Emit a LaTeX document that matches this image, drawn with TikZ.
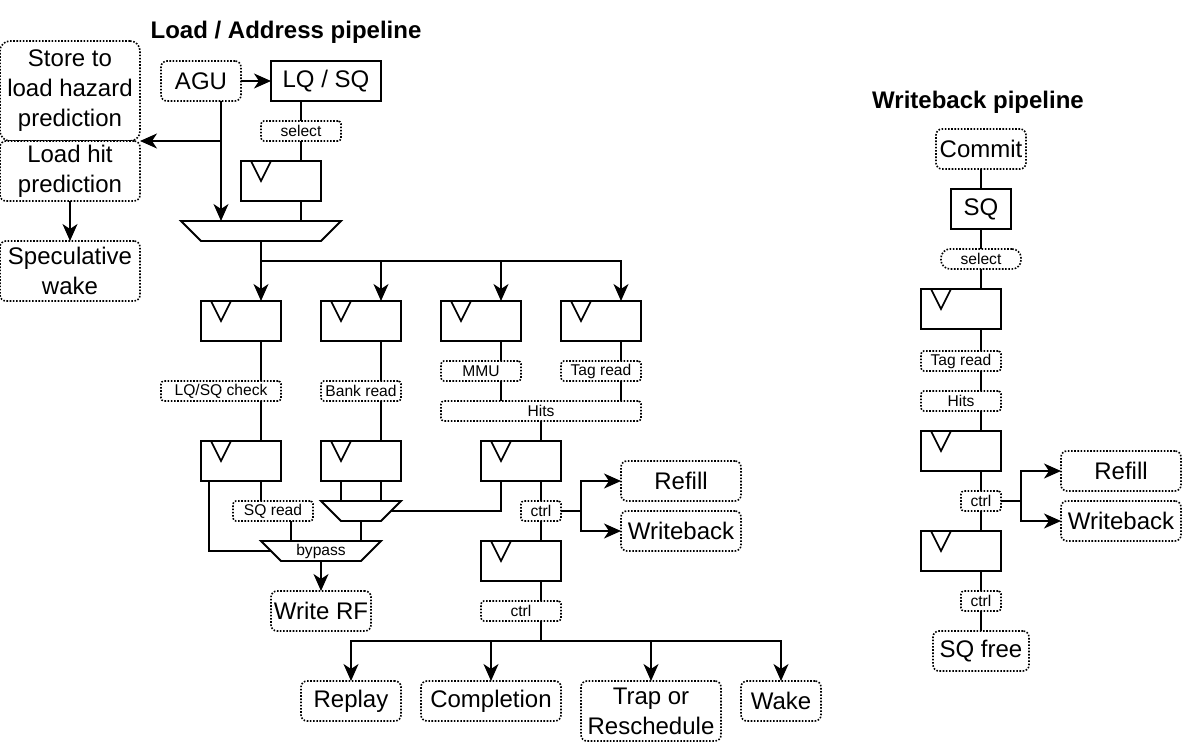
\documentclass[tikz,border=0pt]{standalone}
\usepackage{fontspec}
\setmainfont{Liberation Sans}
\usetikzlibrary{arrows.meta,calc}
\begin{document}
\begin{tikzpicture}[x=1pt,y=-1pt,
  line width=1.9pt,
  big/.style={font=\fontsize{24}{30}\selectfont},
  small/.style={font=\fontsize{15.6}{18}\selectfont},
  dotbox/.style={draw, line width=1.6pt, dash pattern=on 1.6pt off 1.6pt, rounded corners=6pt, fill=white, inner sep=0pt, outer sep=0pt, align=center},
  bigbox/.style={dotbox, big},
  lbl/.style={dotbox, small, rounded corners=3pt, minimum height=20pt},
  solidbox/.style={draw, line width=1.9pt, fill=white, inner sep=0pt, outer sep=0pt, big, minimum height=40pt},
  regbox/.style={draw, line width=1.9pt, fill=white, inner sep=0pt, outer sep=0pt, minimum width=80pt, minimum height=40pt},
  muxarea/.style={inner sep=0pt, outer sep=0pt, minimum height=20pt, small},
  arr/.style={-{Stealth[length=17pt,width=15pt,inset=5pt]}},
  title/.style={font=\fontsize{24}{29}\selectfont\bfseries}
]
\useasboundingbox (0,0) rectangle (1184,744);
\newcommand\clk[1]{\draw[line width=1.6pt] ([xshift=10pt]#1.north west) -- ([xshift=20pt,yshift=-20pt]#1.north west) -- ([xshift=30pt]#1.north west);}
\newcommand\muxshape[1]{\draw[line width=1.9pt, fill=white] (#1.north west) -- (#1.north east) -- ([xshift=-20pt]#1.south east) -- ([xshift=20pt]#1.south west) -- cycle;}

% titles
\node[title] (t1) at (286,32) {Load / Address pipeline};
\node[title] (t2) at (978,102) {Writeback pipeline};

% left boxes
\node[bigbox, rounded corners=10pt, minimum width=140pt, minimum height=100pt] (store) at (70,91) {Store to\\load hazard\\prediction};
\node[bigbox, minimum width=140pt, minimum height=60pt] (lhit) at (70,171) {Load hit\\prediction};
\node[bigbox, minimum width=140pt, minimum height=60pt] (spec) at (70,271) {Speculative\\wake};

% load pipeline
\node[bigbox, minimum width=80pt, minimum height=40pt] (agu) at (201,81) {AGU};
\node[solidbox, minimum width=110pt] (lqsq) at (326,81) {LQ / SQ};
\node[lbl, minimum width=80pt] (sel1) at (301,131) {select};
\node[regbox] (r0) at (281,181) {}; \clk{r0}
\node[muxarea, minimum width=160pt] (mux1) at (261,231) {}; \muxshape{mux1}

\node[regbox] (ra) at (241,321) {}; \clk{ra}
\node[regbox] (rb) at (361,321) {}; \clk{rb}
\node[regbox] (rc) at (481,321) {}; \clk{rc}
\node[regbox] (rd) at (601,321) {}; \clk{rd}

\node[lbl, minimum width=120pt] (lqchk) at (221,391) {LQ/SQ check};
\node[lbl, minimum width=80pt] (bank) at (361,391) {Bank read};
\node[lbl, minimum width=80pt] (mmu) at (481,371) {MMU};
\node[lbl, minimum width=80pt] (tag) at (601,371) {Tag read};
\node[lbl, minimum width=200pt] (hits) at (541,411) {Hits};

\node[regbox] (ra2) at (241,461) {}; \clk{ra2}
\node[regbox] (rb2) at (361,461) {}; \clk{rb2}
\node[regbox] (rc2) at (521,461) {}; \clk{rc2}

\node[lbl, minimum width=80pt] (sqread) at (273,511) {SQ read};
\node[muxarea, minimum width=80pt] (mux2) at (361,511) {}; \muxshape{mux2}
\node[lbl, minimum width=40pt] (ctrl1) at (541,511) {ctrl};
\node[bigbox, minimum width=120pt, minimum height=40pt] (refill1) at (681,481) {Refill};
\node[bigbox, minimum width=120pt, minimum height=40pt] (wb1) at (681,531) {Writeback};

\node[muxarea, minimum width=120pt] (bypass) at (321,551) {}; \muxshape{bypass}
\node[small, inner sep=0pt] (bypasstxt) at (bypass.center) {bypass};
\node[regbox] (rc3) at (521,561) {}; \clk{rc3}
\node[bigbox, minimum width=100pt, minimum height=40pt] (writerf) at (321,611) {Write RF};
\node[lbl, minimum width=80pt] (ctrl2) at (521,611) {ctrl};

\node[bigbox, minimum width=100pt, minimum height=40pt] (replay) at (351,701) {Replay};
\node[bigbox, minimum width=140pt, minimum height=40pt] (compl) at (491,701) {Completion};
\node[bigbox, minimum width=140pt, minimum height=60pt] (trap) at (651,711) {Trap or\\Reschedule};
\node[bigbox, minimum width=80pt, minimum height=40pt] (wake) at (781,701) {Wake};

% writeback pipeline
\node[bigbox, minimum width=90pt, minimum height=40pt] (commit) at (981,149) {Commit};
\node[solidbox, minimum width=60pt] (sq) at (981,209) {SQ};
\node[lbl, rounded corners=9pt, minimum width=80pt] (sel2) at (981,259) {select};
\node[regbox] (w1) at (961,309) {}; \clk{w1}
\node[lbl, minimum width=80pt] (tag2) at (961,361) {Tag read};
\node[lbl, minimum width=80pt] (hits2) at (961,401) {Hits};
\node[regbox] (w2) at (961,451) {}; \clk{w2}
\node[lbl, minimum width=40pt] (ctrl3) at (981,501) {ctrl};
\node[regbox] (w3) at (961,551) {}; \clk{w3}
\node[lbl, minimum width=40pt] (ctrl4) at (981,601) {ctrl};
\node[bigbox, minimum width=96pt, minimum height=40pt] (sqfree) at (981,651) {SQ free};
\node[bigbox, minimum width=120pt, minimum height=40pt] (refill2) at (1121,471) {Refill};
\node[bigbox, minimum width=120pt, minimum height=40pt] (wb2) at (1121,521) {Writeback};

% ---- connectors: left
\draw[arr] (lhit.south) -- (spec.north);

% ---- connectors: load pipeline
\draw[arr] (agu.east) -- (lqsq.west);
\draw ([xshift=-25pt]lqsq.south) -- (sel1.north);
\draw (sel1.south) -- ([xshift=20pt]r0.north);
\draw ([xshift=20pt]r0.south) -- ([xshift=40pt]mux1.north);
\draw[arr] ([xshift=20pt]agu.south) -- ([xshift=-40pt]mux1.north);
\draw[arr] ([xshift=20pt]agu.south) ++(0,40) -- (lhit.north east);
\draw (mux1.south) -- ++(0,20) coordinate (bus1);
\draw[arr] (bus1) -- ([xshift=20pt]ra.north);
\draw[arr] (bus1) -| ([xshift=20pt]rb.north);
\draw[arr] (bus1) -| ([xshift=20pt]rc.north);
\draw[arr] (bus1) -| ([xshift=20pt]rd.north);

\draw ([xshift=20pt]ra.south) -- ([xshift=40pt]lqchk.north);
\draw ([xshift=40pt]lqchk.south) -- ([xshift=20pt]ra2.north);
\draw ([xshift=20pt]rb.south) -- ([xshift=20pt]bank.north);
\draw ([xshift=20pt]bank.south) -- ([xshift=20pt]rb2.north);
\draw ([xshift=20pt]rc.south) -- ([xshift=20pt]mmu.north);
\draw ([xshift=20pt]mmu.south) -- ([xshift=-40pt]hits.north);
\draw ([xshift=20pt]rd.south) -- ([xshift=20pt]tag.north);
\draw ([xshift=20pt]tag.south) -- ([xshift=80pt]hits.north);
\draw (hits.south) -- ([xshift=20pt]rc2.north);

\draw ([xshift=20pt]ra2.south) -- ([xshift=-12pt]sqread.north);
\draw ([xshift=18pt]sqread.south) -- ([xshift=-30pt]bypass.north);
\draw ([xshift=-32pt]ra2.south) |- ([xshift=10pt]bypass.west);
\draw ([xshift=-20pt]rb2.south) -- ([xshift=-20pt]mux2.north);
\draw ([xshift=20pt]rb2.south) -- ([xshift=20pt]mux2.north);
\draw (mux2.south) -- ([xshift=40pt]bypass.north);
\draw ([xshift=-20pt]rc2.south) |- ([xshift=-10pt]mux2.east);
\draw ([xshift=20pt]rc2.south) -- (ctrl1.north);
\draw (ctrl1.south) -- ([xshift=20pt]rc3.north);
\draw[arr] (ctrl1.east) -- ++(20,0) |- (refill1.west);
\draw[arr] (ctrl1.east) -- ++(20,0) |- (wb1.west);
\draw[arr] (bypass.south) -- (writerf.north);
\draw ([xshift=20pt]rc3.south) -- ([xshift=20pt]ctrl2.north);
\draw ([xshift=20pt]ctrl2.south) -- ++(0,20) coordinate (bus2);
\draw[arr] (bus2) -| (replay.north);
\draw[arr] (bus2) -| (compl.north);
\draw[arr] (bus2) -| (trap.north);
\draw[arr] (bus2) -| (wake.north);

% ---- connectors: writeback pipeline
\draw (commit.south) -- (sq.north);
\draw (sq.south) -- (sel2.north);
\draw (sel2.south) -- ([xshift=20pt]w1.north);
\draw ([xshift=20pt]w1.south) -- ([xshift=20pt]tag2.north);
\draw ([xshift=20pt]tag2.south) -- ([xshift=20pt]hits2.north);
\draw ([xshift=20pt]hits2.south) -- ([xshift=20pt]w2.north);
\draw ([xshift=20pt]w2.south) -- (ctrl3.north);
\draw (ctrl3.south) -- ([xshift=20pt]w3.north);
\draw ([xshift=20pt]w3.south) -- (ctrl4.north);
\draw (ctrl4.south) -- (sqfree.north);
\draw[arr] (ctrl3.east) -- ++(20,0) |- (refill2.west);
\draw[arr] (ctrl3.east) -- ++(20,0) |- (wb2.west);
\end{tikzpicture}
\end{document}
